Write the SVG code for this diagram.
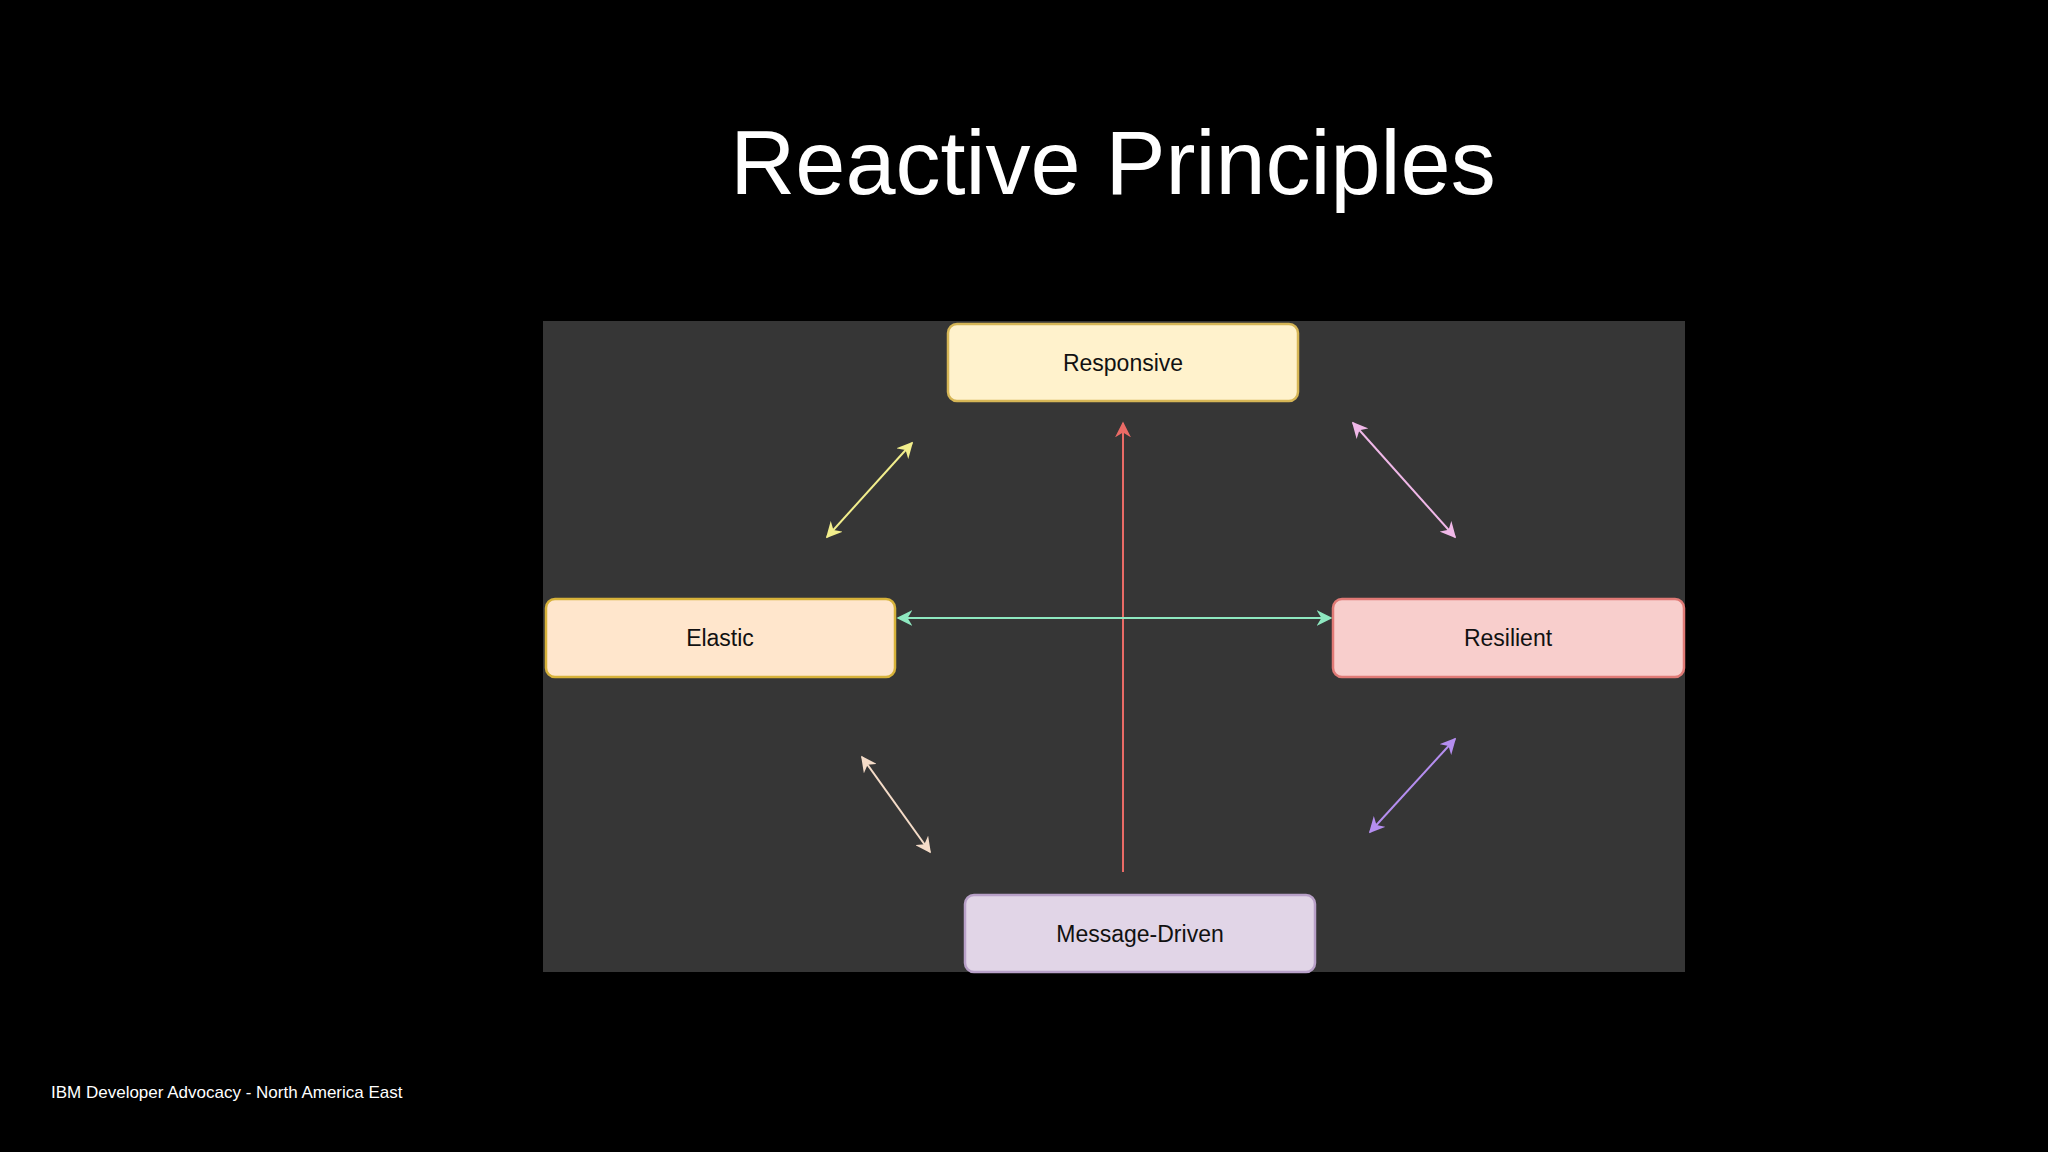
<svg xmlns="http://www.w3.org/2000/svg" width="2048" height="1152" viewBox="0 0 2048 1152">
<defs>
<style>
.box{stroke-width:2.5}
.lbl{font-family:"Liberation Sans",Arial,sans-serif;font-size:23px;fill:#111;text-anchor:middle;dominant-baseline:central}
.ln{stroke-width:2;fill:none}
</style>
<marker id="mY" viewBox="0 0 10 10" refX="9" refY="5" markerWidth="8" markerHeight="8" orient="auto-start-reverse"><path d="M0,0 L10,5 L0,10 L3,5 z" fill="#f2ee8c"/></marker>
<marker id="mP" viewBox="0 0 10 10" refX="9" refY="5" markerWidth="8" markerHeight="8" orient="auto-start-reverse"><path d="M0,0 L10,5 L0,10 L3,5 z" fill="#f0b8e8"/></marker>
<marker id="mR" viewBox="0 0 10 10" refX="9" refY="5" markerWidth="8" markerHeight="8" orient="auto-start-reverse"><path d="M0,0 L10,5 L0,10 L3,5 z" fill="#ea6b66"/></marker>
<marker id="mG" viewBox="0 0 10 10" refX="9" refY="5" markerWidth="8" markerHeight="8" orient="auto-start-reverse"><path d="M0,0 L10,5 L0,10 L3,5 z" fill="#8ee8c0"/></marker>
<marker id="mB" viewBox="0 0 10 10" refX="9" refY="5" markerWidth="8" markerHeight="8" orient="auto-start-reverse"><path d="M0,0 L10,5 L0,10 L3,5 z" fill="#f5dcc8"/></marker>
<marker id="mV" viewBox="0 0 10 10" refX="9" refY="5" markerWidth="8" markerHeight="8" orient="auto-start-reverse"><path d="M0,0 L10,5 L0,10 L3,5 z" fill="#b58ef0"/></marker>
</defs>
<rect width="2048" height="1152" fill="#000"/>
<text x="1113" y="163" font-family="Liberation Sans,Arial,sans-serif" font-size="90" fill="#fff" text-anchor="middle" dominant-baseline="central">Reactive Principles</text>
<rect x="543" y="321" width="1142" height="651" fill="#363636"/>
<g id="connectors">
<line class="ln" x1="827" y1="537" x2="912" y2="443" stroke="#f2ee8c" marker-start="url(#mY)" marker-end="url(#mY)"/>
<line class="ln" x1="1353" y1="423" x2="1455" y2="537" stroke="#f0b8e8" marker-start="url(#mP)" marker-end="url(#mP)"/>
<line class="ln" x1="1123" y1="872" x2="1123" y2="423" stroke="#ea6b66" marker-end="url(#mR)"/>
<line class="ln" x1="898" y1="618" x2="1331" y2="618" stroke="#8ee8c0" marker-start="url(#mG)" marker-end="url(#mG)"/>
<line class="ln" x1="862" y1="757" x2="930" y2="852" stroke="#f5dcc8" marker-start="url(#mB)" marker-end="url(#mB)"/>
<line class="ln" x1="1370" y1="832" x2="1455" y2="739" stroke="#b58ef0" marker-start="url(#mV)" marker-end="url(#mV)"/>
</g>
<g id="responsive"><rect class="box" x="948" y="324" width="350" height="77" rx="9" fill="#fff2cc" stroke="#d6b656"/><text class="lbl" x="1123" y="363">Responsive</text></g>
<g id="elastic"><rect class="box" x="546" y="599" width="349" height="78" rx="9" fill="#ffe6cc" stroke="#d7b23a"/><text class="lbl" x="720" y="638">Elastic</text></g>
<g id="resilient"><rect class="box" x="1333" y="599" width="351" height="78" rx="9" fill="#f8cecc" stroke="#e07a76"/><text class="lbl" x="1508" y="638">Resilient</text></g>
<g id="message-driven"><rect class="box" x="965" y="895" width="350" height="77" rx="9" fill="#e1d5e7" stroke="#b8a0c8"/><text class="lbl" x="1140" y="934">Message-Driven</text></g>
<text x="51" y="1092" font-family="Liberation Sans,Arial,sans-serif" font-size="17" fill="#fff" dominant-baseline="central">IBM Developer Advocacy - North America East</text>
</svg>
